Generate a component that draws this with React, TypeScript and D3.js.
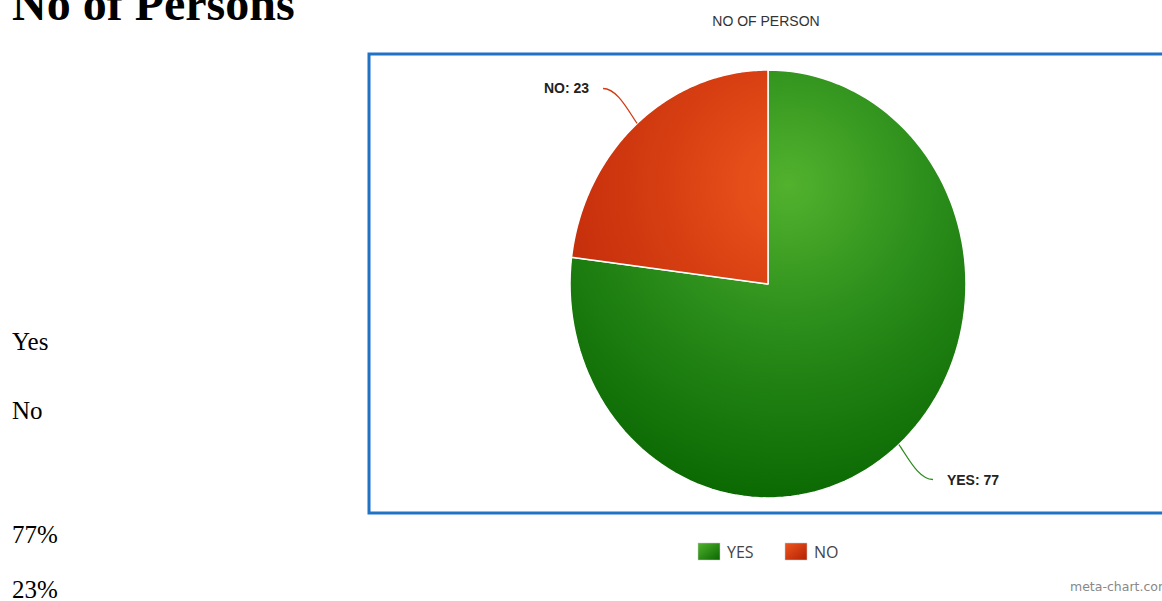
import React from "react";
import * as d3 from "d3";

const categories = ["YES", "NO"];
const values = [77, 23];
const percentLabels = ["77%", "23%"];
const sideLabels = ["Yes", "No"];
const chartTitle = "NO OF PERSON";
const pageHeading = "No of Persons";

const W = 1162;
const H = 601;
const cx = 768;
const cy = 284;
const rx = 198;
const ry = 214;

const gradStops = [
  { inner: "#52b22e", mid: "#2a8c1a", outer: "#086600" },
  { inner: "#ee561d", mid: "#d23a10", outer: "#b42005" },
];
const colors = ["#2a8c1a", "#d23a10"];

export default function App() {
  const pie = d3
    .pie<number>()
    .sort(null)
    .value((d) => d)
    .startAngle(0)
    .endAngle(2 * Math.PI);
  const arcs = pie(values);

  const labelInfo = arcs.map((a, i) => {
    const mid = (a.startAngle + a.endAngle) / 2;
    const ex = cx + rx * Math.sin(mid);
    const ey = cy - ry * Math.cos(mid);
    const right = Math.sin(mid) > 0;
    const lx = right ? ex + 34 : ex - 34;
    const ly = right ? ey + 35 : ey - 35;
    const c1x = ex + Math.sin(mid) * 14;
    const c1y = ey - Math.cos(mid) * 18;
    const c2x = right ? lx - 14 : lx + 14;
    const path = `M${ex},${ey} C${c1x},${c1y} ${c2x},${ly} ${lx},${ly}`;
    return { path, lx, ly, right, i };
  });

  return (
    <svg
      width={W}
      height={H}
      style={{ position: "absolute", left: 0, top: 0, background: "#fff" }}
    >
      <defs>
        {gradStops.map((g, i) => (
          <radialGradient
            key={i}
            id={`g${i}`}
            gradientUnits="userSpaceOnUse"
            cx={788}
            cy={185}
            r={330}
          >
            <stop offset="0%" stopColor={g.inner} />
            <stop offset="45%" stopColor={g.mid} />
            <stop offset="100%" stopColor={g.outer} />
          </radialGradient>
        ))}
        {gradStops.map((g, i) => (
          <linearGradient key={`l${i}`} id={`lg${i}`} x1="0" y1="0" x2="1" y2="1">
            <stop offset="0%" stopColor={g.inner} />
            <stop offset="100%" stopColor={g.outer} />
          </linearGradient>
        ))}
      </defs>

      {/* page text */}
      <text x={12} y={20} fontFamily="'Liberation Serif', serif" fontWeight="bold" fontSize={48}>
        {pageHeading}
      </text>
      {sideLabels.map((t, i) => (
        <text key={t} x={12} y={350 + i * 69} fontFamily="'Liberation Serif', serif" fontSize={25}>
          {t}
        </text>
      ))}
      {percentLabels.map((t, i) => (
        <text key={t} x={12} y={543 + i * 55} fontFamily="'Liberation Serif', serif" fontSize={25}>
          {t}
        </text>
      ))}

      {/* chart title */}
      <text
        x={766}
        y={26}
        textAnchor="middle"
        fontFamily="'Liberation Sans', Arial, sans-serif"
        fontSize={14}
        fill="#333"
      >
        {chartTitle}
      </text>

      {/* frame */}
      <rect x={369} y={54} width={800} height={459} fill="none" stroke="#1f72c6" strokeWidth={3} />

      {/* pie slices (elliptical, drawn from d3.pie angles) */}
      {arcs.map((a, i) => {
        const n = 120;
        const pts: [number, number][] = [[cx, cy]];
        for (let k = 0; k <= n; k++) {
          const t = a.startAngle + ((a.endAngle - a.startAngle) * k) / n;
          pts.push([cx + rx * Math.sin(t), cy - ry * Math.cos(t)]);
        }
        const d = d3.line()(pts) + "Z";
        return (
          <path key={`s${i}`} d={d} fill={`url(#g${i})`} stroke="#fff" strokeWidth={1.5} strokeLinejoin="round" />
        );
      })}

      {/* leader lines & labels */}
      {labelInfo.map((l) => (
        <g key={l.i}>
          <path d={l.path} fill="none" stroke={colors[l.i]} strokeWidth={1.3} />
          <text
            x={l.right ? l.lx + 14 : l.lx - 14}
            y={l.ly + 5}
            textAnchor={l.right ? "start" : "end"}
            fontFamily="'Liberation Sans', Arial, sans-serif"
            fontWeight="bold"
            fontSize={14}
            fill="#222"
          >
            {`${categories[l.i]}: ${values[l.i]}`}
          </text>
        </g>
      ))}

      {/* legend */}
      {categories.map((c, i) => {
        const x0 = 698 + i * 87;
        return (
          <g key={c}>
            <rect x={x0} y={543} width={22} height={17} fill={`url(#lg${i})`} stroke="#ccc" strokeWidth={0.5} />
            <text
              x={x0 + 29}
              y={558}
              fontFamily="'Open Sans', 'DejaVu Sans', sans-serif"
              fontSize={16}
              fill="#444"
            >
              {c}
            </text>
          </g>
        );
      })}

      <text x={1070} y={591} fontFamily="'DejaVu Sans', sans-serif" fontSize={12.5} fill="#888">
        meta-chart.com
      </text>
    </svg>
  );
}
